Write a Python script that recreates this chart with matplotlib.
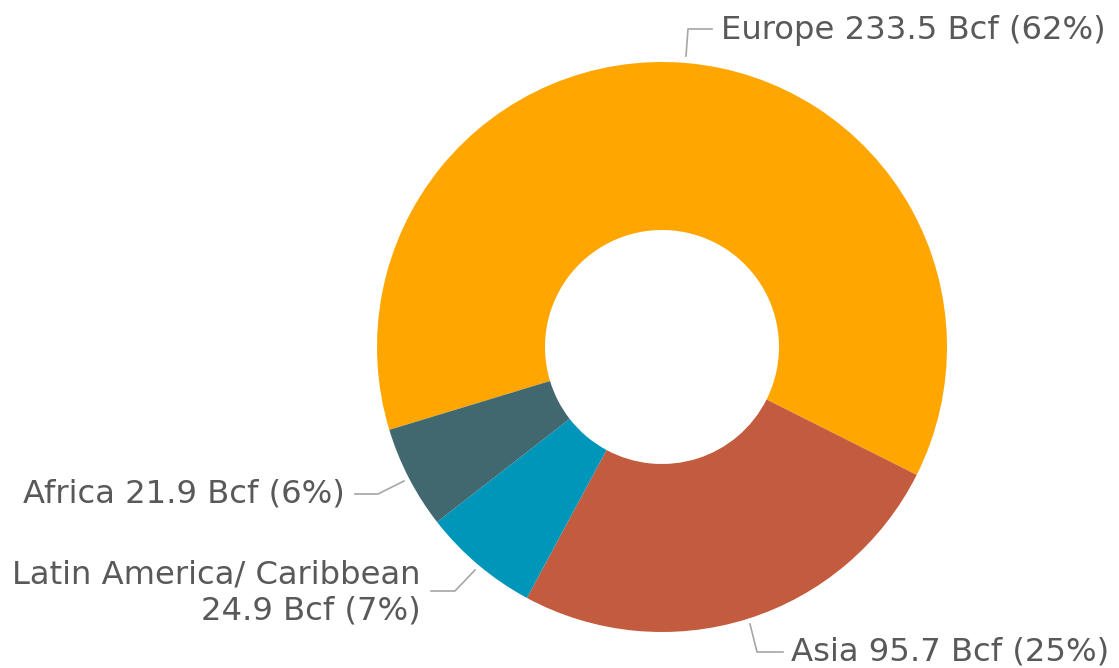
import matplotlib
matplotlib.use("Agg")
import matplotlib.pyplot as plt

regions = ["Europe", "Asia", "Latin America/ Caribbean", "Africa"]
values = [233.5, 95.7, 24.9, 21.9]
pcts = [62, 25, 7, 6]
colors = ["#FFA600", "#C35B3E", "#0096B9", "#41686F"]

W, H = 1119, 668
fig = plt.figure(figsize=(W / 100, H / 100), dpi=100)
ax = fig.add_axes([0, 0, 1, 1])

cx, cy = 662, H - 347
R = 285
ax.pie(values, colors=colors, startangle=196.9, counterclock=False,
       center=(cx, cy), radius=R,
       wedgeprops=dict(width=R - 117, linewidth=0), frame=True)
ax.set_xlim(0, W)
ax.set_ylim(0, H)
ax.set_aspect("equal")
ax.axis("off")

tc = "#595959"
lc = "#A6A6A6"
fs = 23.2

def py(y):
    return H - y

# Europe
ax.plot([686, 688, 712], [py(56), py(29), py(29)], color=lc, lw=1.2)
ax.text(721, py(30), f"{regions[0]} {values[0]} Bcf ({pcts[0]}%)", color=tc,
        fontsize=fs, ha="left", va="center")
# Asia
ax.plot([750, 757, 783], [py(624), py(652), py(652)], color=lc, lw=1.2)
ax.text(791, py(652), f"{regions[1]} {values[1]} Bcf ({pcts[1]}%)", color=tc,
        fontsize=fs, ha="left", va="center")
# Latin America
ax.plot([431, 455, 475], [py(591), py(591), py(570)], color=lc, lw=1.2)
ax.text(421, py(593), f"{regions[2]}\n{values[2]} Bcf ({pcts[2]}%)", color=tc,
        fontsize=fs, ha="right", va="center", multialignment="right",
        linespacing=1.22)
# Africa
ax.plot([355, 378, 404], [py(494), py(494), py(481)], color=lc, lw=1.2)
ax.text(345, py(494), f"{regions[3]} {values[3]} Bcf ({pcts[3]}%)", color=tc,
        fontsize=fs, ha="right", va="center")

fig.savefig("out.png", dpi=100)
